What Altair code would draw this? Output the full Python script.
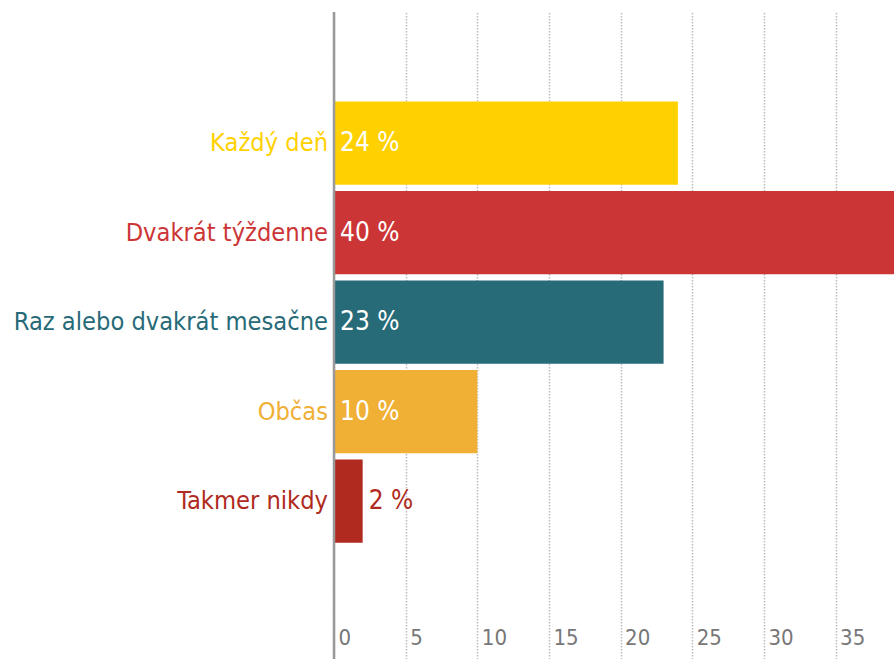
import altair as alt
import pandas as pd

categories = ["Každý deň", "Dvakrát týždenne", "Raz alebo dvakrát mesačne", "Občas", "Takmer nikdy"]
values = [24, 40, 23, 10, 2]
labels = ["24 %", "40 %", "23 %", "10 %", "2 %"]
colors = ["#FFD100", "#CC3535", "#276A78", "#F0AF35", "#B02A20"]
ticks = [0, 5, 10, 15, 20, 25, 30, 35]

df = pd.DataFrame({"cat": categories, "val": values, "lab": labels, "col": colors})
df["inside"] = df["val"] >= 5
df["lx"] = df.apply(lambda r: 0 if r["inside"] else r["val"], axis=1)
df["lcol"] = df.apply(lambda r: "#FFFFFF" if r["inside"] else r["col"], axis=1)

FONT = "DejaVu Sans Condensed, Liberation Sans Narrow, Roboto Condensed, Roboto, sans-serif"

ydomain = [" "] + categories + ["  "]
yscale = alt.Scale(domain=ydomain, paddingInner=0.07, paddingOuter=0.15, align=0.0)
xscale = alt.Scale(domain=[0, 39.08], nice=False, zero=True)

base = alt.Chart(df)

bars = base.mark_bar(clip=True).encode(
    x=alt.X("val:Q", scale=xscale, axis=alt.Axis(
        values=ticks, title=None, domain=False, ticks=False,
        grid=True, gridColor="#bbbbbb", gridDash=[1.5, 1.5], gridWidth=1.5,
        labelFont=FONT, labelFontSize=22, labelColor="#777777",
        labelPadding=-32, labelAlign="left", labelOffset=4, labelFlush=False)),
    y=alt.Y("cat:N", scale=yscale, axis=None),
    color=alt.Color("col:N", scale=None),
)

zero = base.mark_rule(color="#999999", strokeWidth=2.5).encode(
    x=alt.X("z:Q", scale=xscale),
).transform_calculate(z="0").transform_filter("datum.cat == 'Každý deň'")

catlab = base.mark_text(align="right", baseline="middle", dx=-6, font=FONT, fontSize=25.2).encode(
    x=alt.value(0),
    y=alt.Y("cat:N", scale=yscale),
    text="cat:N",
    color=alt.Color("col:N", scale=None),
)

vallab = base.mark_text(align="left", baseline="middle", dx=6, font=FONT, fontSize=26).encode(
    x=alt.X("lx:Q", scale=xscale),
    y=alt.Y("cat:N", scale=yscale),
    text="lab:N",
    color=alt.Color("lcol:N", scale=None),
)

chart = alt.layer(bars, zero, catlab, vallab).properties(
    width=560, height=647,
    autosize=alt.AutoSizeParams(type="none"),
    padding={"left": 334, "top": 12, "right": 0, "bottom": 0},
).configure_view(stroke=None)

chart.save("out.html", embed_options={"renderer": "svg", "actions": False})
